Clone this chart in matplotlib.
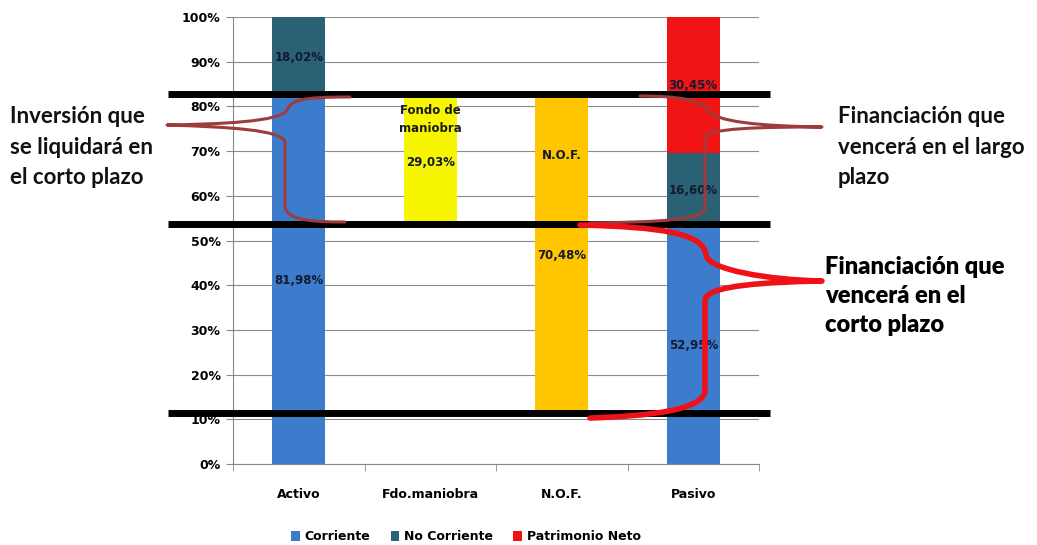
import numpy as np
import matplotlib
matplotlib.use("Agg")
import matplotlib.pyplot as plt
from matplotlib.path import Path
from matplotlib.patches import PathPatch
from matplotlib.transforms import Affine2D

# data (percent of total)
categories = ["Activo", "Fdo.maniobra", "N.O.F.", "Pasivo"]
activo_corriente = 81.98
activo_no_corriente = 18.02
pasivo_corriente = 52.95
pasivo_no_corriente = 16.60
patrimonio_neto = 30.45
fondo_maniobra = 29.03
nof = 70.48
ytick_vals = [0, 10, 20, 30, 40, 50, 60, 70, 80, 90, 100]
levels = [82.8, 53.8, 11.4]   # black reference lines

C_CORR = "#3d7ccc"
C_NOCORR = "#2b6175"
C_PN = "#f01414"
C_FM = "#f7f500"
C_NOF = "#ffc600"
LBL = "#141a30"
SMALL = ["DejaVu Sans"]

plt.rcParams['font.family'] = ['Lato', 'DejaVu Sans']

W, H = 1037, 545
fig = plt.figure(figsize=(W / 100, H / 100), dpi=100)
ax = fig.add_axes([233 / W, 1 - 464 / H, 526 / W, 447 / H])
x = np.arange(len(categories))
bw = 0.4

# Activo
ax.bar(x[0], activo_corriente, bw, color=C_CORR, zorder=2)
ax.bar(x[0], activo_no_corriente, bw, bottom=activo_corriente, color=C_NOCORR, zorder=2)
# Fondo de maniobra (floating)
fm_bottom = activo_corriente - fondo_maniobra
ax.bar(x[1], fondo_maniobra, bw, bottom=fm_bottom, color=C_FM, zorder=2)
# NOF (floating)
nof_bottom = activo_corriente - nof
ax.bar(x[2], nof, bw, bottom=nof_bottom, color=C_NOF, zorder=2)
# Pasivo
ax.bar(x[3], pasivo_corriente, bw, color=C_CORR, zorder=2, label="Corriente")
ax.bar(x[3], pasivo_no_corriente, bw, bottom=pasivo_corriente, color=C_NOCORR, zorder=2, label="No Corriente")
ax.bar(x[3], patrimonio_neto, bw, bottom=pasivo_corriente + pasivo_no_corriente, color=C_PN, zorder=2, label="Patrimonio Neto")

def pct(v):
    return f"{v:.2f}%".replace(".", ",")

lab = dict(ha="center", va="center", fontsize=8.5, fontweight="bold", color=LBL, zorder=5, family=SMALL)
ax.text(x[0], activo_corriente / 2, pct(activo_corriente), **lab)
ax.text(x[0], activo_corriente + activo_no_corriente / 2, pct(activo_no_corriente), **lab)
ax.text(x[1], fm_bottom + fondo_maniobra / 2, pct(fondo_maniobra), **lab)
ax.text(x[1], 77, "Fondo de\nmaniobra", ha="center", va="center", fontsize=8.5,
        fontweight="bold", color="#1a1a1a", linespacing=1.5, zorder=5, family=SMALL)
ax.text(x[2], nof_bottom + nof / 2, pct(nof), **lab)
ax.text(x[2], 69, "N.O.F.", **lab)
ax.text(x[3], pasivo_corriente / 2, pct(pasivo_corriente), **lab)
ax.text(x[3], pasivo_corriente + pasivo_no_corriente / 2, pct(pasivo_no_corriente), **lab)
ax.text(x[3], pasivo_corriente + pasivo_no_corriente + patrimonio_neto / 2, pct(patrimonio_neto), **lab)

ax.set_xlim(-0.5, 3.5)
ax.set_ylim(0, 100)
ax.set_yticks(ytick_vals)
ax.set_yticklabels([f"{v}%" for v in ytick_vals], fontsize=9, fontweight="bold", family=SMALL)
ax.set_xticks(x)
ax.set_xticklabels(categories, fontsize=9, fontweight="bold", family=SMALL)
ax.set_xticks(np.arange(-0.5, 4, 1), minor=True)
ax.tick_params(axis="x", which="major", length=0, pad=17)
ax.tick_params(axis="x", which="minor", length=5, color="#888888")
ax.tick_params(axis="y", length=5, color="#888888", pad=4)
ax.grid(axis="y", color="#8c8c8c", lw=0.8, zorder=0)
for s in ["top", "right"]:
    ax.spines[s].set_visible(False)
for s in ["left", "bottom"]:
    ax.spines[s].set_color("#888888")

# black reference lines
ytr = ax.get_yaxis_transform()
for lv in levels:
    ax.plot([-0.124, 1.021], [lv, lv], color="black", lw=5, transform=ytr,
            clip_on=False, zorder=6, solid_capstyle="butt")

# braces drawn in image pixel coordinates
pxt = Affine2D().scale(1 / W, -1 / H).translate(0, 1) + fig.transFigure
M, C, L = Path.MOVETO, Path.CURVE4, Path.LINETO

def brace(pts, codes, color, lw):
    p = PathPatch(Path(pts, codes), fill=False, edgecolor=color, lw=lw,
                  transform=pxt, zorder=7, capstyle="round", joinstyle="round")
    fig.add_artist(p)

brace([(350, 97), (300, 97), (292, 100), (287, 110),
       (280, 122), (220, 124), (167, 125),
       (230, 127), (282, 130), (285, 142),
       (285, 205),
       (285, 220), (310, 222), (345, 222)],
      [M, C, C, C, C, C, C, C, C, C, L, C, C, C], "#9e3b3b", 2.2)

brace([(640, 96), (680, 96), (700, 100), (708, 110),
       (715, 122), (760, 126), (822, 127),
       (760, 127), (706, 128), (705, 138),
       (705, 208),
       (704, 220), (660, 222), (590, 223)],
      [M, C, C, C, C, C, C, C, C, C, L, C, C, C], "#9e3b3b", 2.2)

brace([(580, 225), (660, 227), (704, 233), (706, 255),
       (708, 270), (770, 280), (822, 281),
       (770, 282), (706, 285), (705, 300),
       (705, 390),
       (705, 410), (650, 416), (590, 418)],
      [M, C, C, C, C, C, C, C, C, C, L, C, C, C], "#ee1218", 4)

# side annotations
fig.text(10 / W, 1 - 147 / H, "Inversión que\nse liquidará en\nel corto plazo", ha="left", va="center",
         fontsize=16, fontweight="bold", color="#111111", linespacing=1.55)
fig.text(838 / W, 1 - 147 / H, "Financiación que\nvencerá en el largo\nplazo", ha="left", va="center",
         fontsize=16, fontweight="bold", color="#111111", linespacing=1.55)
fig.text(825 / W, 1 - 296 / H, "Financiación que\nvencerá en el\ncorto plazo", ha="left", va="center",
         fontsize=17, fontweight="heavy", color="#000000", linespacing=1.4)

leg = fig.legend(loc="center", bbox_to_anchor=(466 / W, 1 - 537 / H), ncol=3, frameon=False,
                 handlelength=0.7, handleheight=0.9, handletextpad=0.4, columnspacing=1.6,
                 prop={"weight": "bold", "size": 9, "family": SMALL})

fig.savefig("out.png", dpi=100)
